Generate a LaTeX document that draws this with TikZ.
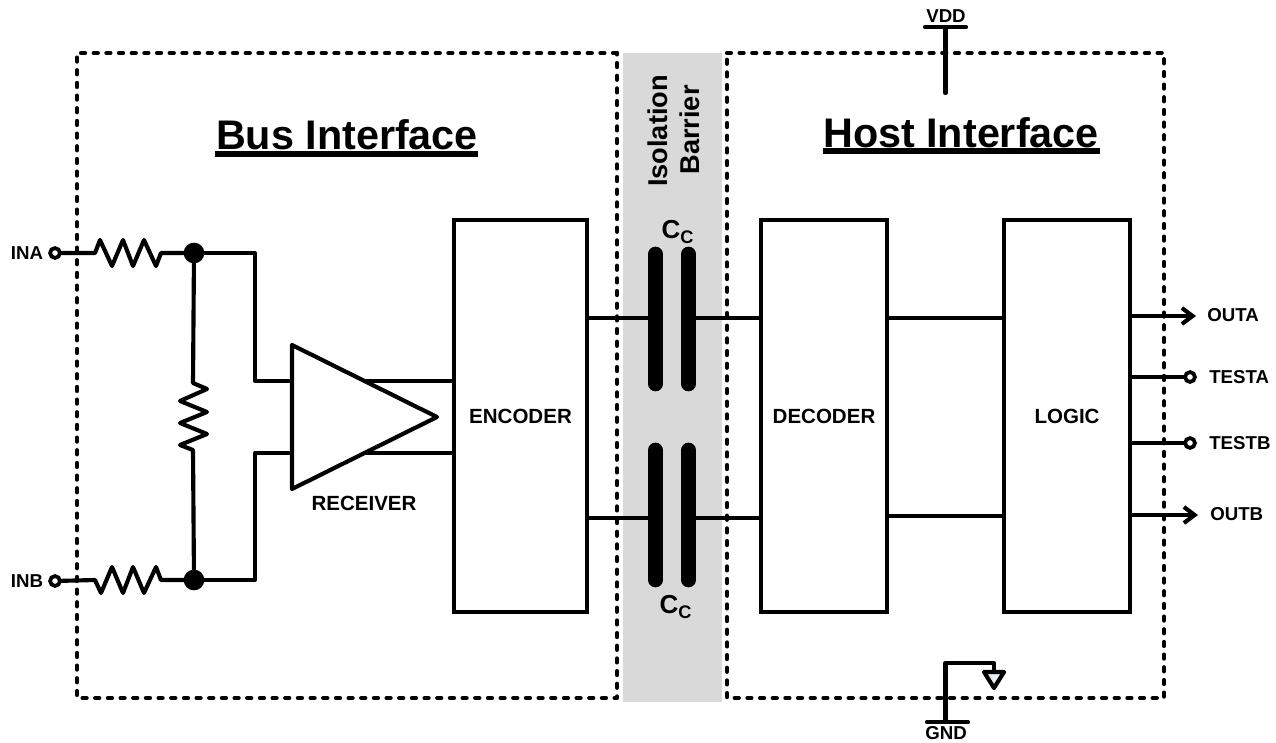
\documentclass[tikz,border=0pt]{standalone}
\usepackage{fontspec}
\setmainfont{Liberation Sans}
\usetikzlibrary{arrows.meta,calc}
\tikzset{
  wire/.style={line width=3.1pt,line cap=round,line join=round,draw=black},
  region/.style={line width=3.3pt,line cap=round,line join=round,draw=black,dash pattern=on 2.9pt off 6.6pt},
  block/.style={draw=black,line width=3.1pt,fill=white,inner sep=0pt,font=\fontsize{15.4pt}{17pt}\selectfont\bfseries},
  plate/.style={line width=11pt,line cap=round,draw=black},
  port/.style={circle,draw=black,line width=2.8pt,fill=white,minimum size=7.4pt,inner sep=0pt},
  joint/.style={circle,fill=black,minimum size=15.5pt,inner sep=0pt},
  pin/.style={inner sep=0pt,font=\fontsize{14pt}{16pt}\selectfont\bfseries},
  bigpin/.style={inner sep=0pt,font=\fontsize{15.4pt}{17pt}\selectfont\bfseries},
  title/.style={inner sep=0pt,anchor=base,font=\fontsize{31pt}{36pt}\selectfont\bfseries},
  barrier/.style={inner sep=0pt,rotate=90,font=\fontsize{20.4pt}{24pt}\selectfont\bfseries},
  arrowwire/.style={wire,-{Straight Barb[length=8pt,width=12pt,line width=3.1pt]}}
}
\begin{document}
\begin{tikzpicture}[x=0.75pt,y=-0.75pt]
\useasboundingbox (0,0) rectangle (1276,742);
% barrier
\fill[fill={rgb,255:red,217;green,217;blue,217}] (623,53) rectangle (722,702);
% regions
\draw[region] (617,53) -- (77,53) -- (77,698) -- (617,698) -- cycle;
\draw[region] (727,53) -- (1164,53) -- (1164,698) -- (727,698) -- cycle;
% blocks
\node[block,minimum width=99.75pt,minimum height=294pt] (enc) at (520.5,416) {ENCODER};
\node[block,minimum width=94.5pt,minimum height=294pt] (dec) at (824,416) {DECODER};
\node[block,minimum width=94.5pt,minimum height=294pt] (log) at (1067,416) {LOGIC};
% titles
\node[title] (bus) at (347,149.3) {Bus Interface};
\node[title] (host) at (961,147) {Host Interface};
\draw[line width=4.5pt] (215,154) coordinate (bu1) -- (478,154) coordinate (bu2);
\draw[line width=4.5pt] (823,150.5) coordinate (hu1) -- (1100,150.5) coordinate (hu2);
\node[barrier] (iso) at (658,131) {Isolation};
\node[barrier] (bar) at (690,130) {Barrier};
% input network
\node[port] (ina) at (55,253) {};
\node[port] (inb) at (55,581) {};
\node[pin] (inal) at (27,253) {INA};
\node[pin] (inbl) at (27,581) {INB};
\node[joint] (ja) at (194,253) {};
\node[joint] (jb) at (194,580) {};
\draw[wire] (ina) -- (95,253) -- (100,240) -- (112,266) -- (123,240) -- (133,266) -- (144,240) -- (156,266) -- (161,253) -- (ja);
\draw[wire] (inb) -- (95,580) -- (101,593) -- (112,567) -- (123,593) -- (133,567) -- (144,593) -- (156,567) -- (161,580) -- (jb);
\draw[wire] (ja) -- (193,383) -- (207,389) -- (180,401) -- (207,412) -- (180,423) -- (207,434) -- (180,445) -- (193,450) -- (jb);
% receiver
\coordinate (rxa) at (292,381);
\coordinate (rxb) at (292,453);
\draw[wire] (ja) -- (255,253) -- (255,381) -- (rxa);
\draw[wire] (jb) -- (255,580) -- (255,453) -- (rxb);
\coordinate (txa) at (365,381);
\coordinate (txb) at (365,453);
\draw[wire] (txa) -- (enc.west |- txa);
\draw[wire] (txb) -- (enc.west |- txb);
\draw[wire] (292,345) -- (437,417) -- (292,489) -- cycle;
\node[bigpin] (rx) at (364,503) {RECEIVER};
% capacitors
\coordinate (ca1) at (655.5,318);
\coordinate (ca2) at (688.5,318);
\coordinate (cb1) at (655.5,518);
\coordinate (cb2) at (688.5,518);
\draw[wire] (ca1 -| enc.east) -- (ca1);
\draw[wire] (ca2) -- (ca2 -| dec.west);
\draw[wire] (cb1 -| enc.east) -- (cb1);
\draw[wire] (cb2) -- (cb2 -| dec.west);
\draw[plate] (655.5,254) -- (655.5,384);
\draw[plate] (688.5,254) -- (688.5,384);
\draw[plate] (655.5,450) -- (655.5,580);
\draw[plate] (688.5,450) -- (688.5,580);
\node[inner sep=0pt,font=\fontsize{19.5pt}{22pt}\selectfont\bfseries] (cc1) at (678,232) {C\textsubscript{C}};
\node[inner sep=0pt,font=\fontsize{19.5pt}{22pt}\selectfont\bfseries] (cc2) at (676,607) {C\textsubscript{C}};
% decoder to logic
\coordinate (dl1) at (887,318);
\coordinate (dl2) at (887,516);
\draw[wire] (dl1) -- (dl1 -| log.west);
\draw[wire] (dl2) -- (dl2 -| log.west);
% outputs
\coordinate (oa) at (1196,316);
\coordinate (ob) at (1198,515);
\node[port] (ta) at (1190,377) {};
\node[port] (tb) at (1190,443) {};
\draw[arrowwire] (log.east |- oa) -- (oa);
\draw[arrowwire] (log.east |- ob) -- (ob);
\draw[wire] (log.east |- ta) -- (ta);
\draw[wire] (log.east |- tb) -- (tb);
\node[pin,anchor=west] (oal) at (1207,315) {OUTA};
\node[pin,anchor=west] (tal) at (1209,377) {TESTA};
\node[pin,anchor=west] (tbl) at (1209,443) {TESTB};
\node[pin,anchor=west] (obl) at (1210,514) {OUTB};
% supply
\coordinate (vb) at (945.5,27);
\coordinate (ve) at (945.5,93);
\draw[wire] (vb) -- (ve);
\draw[wire] (925,27) -- (966,27);
\node[pin] (vdd) at (946,16) {VDD};
\coordinate (gb) at (945.5,722);
\coordinate (gt) at (994,663);
\draw[wire] (gb) -- (945.5,663) -- (gt) -- (994,672);
\draw[wire] (927,722) -- (968,722);
\draw[wire,fill={rgb,255:red,232;green,238;blue,246}] (984,672) -- (1004,672) -- (994,688) -- cycle;
\node[pin] (gnd) at (946,733.5) {GND};
\end{tikzpicture}
\end{document}
